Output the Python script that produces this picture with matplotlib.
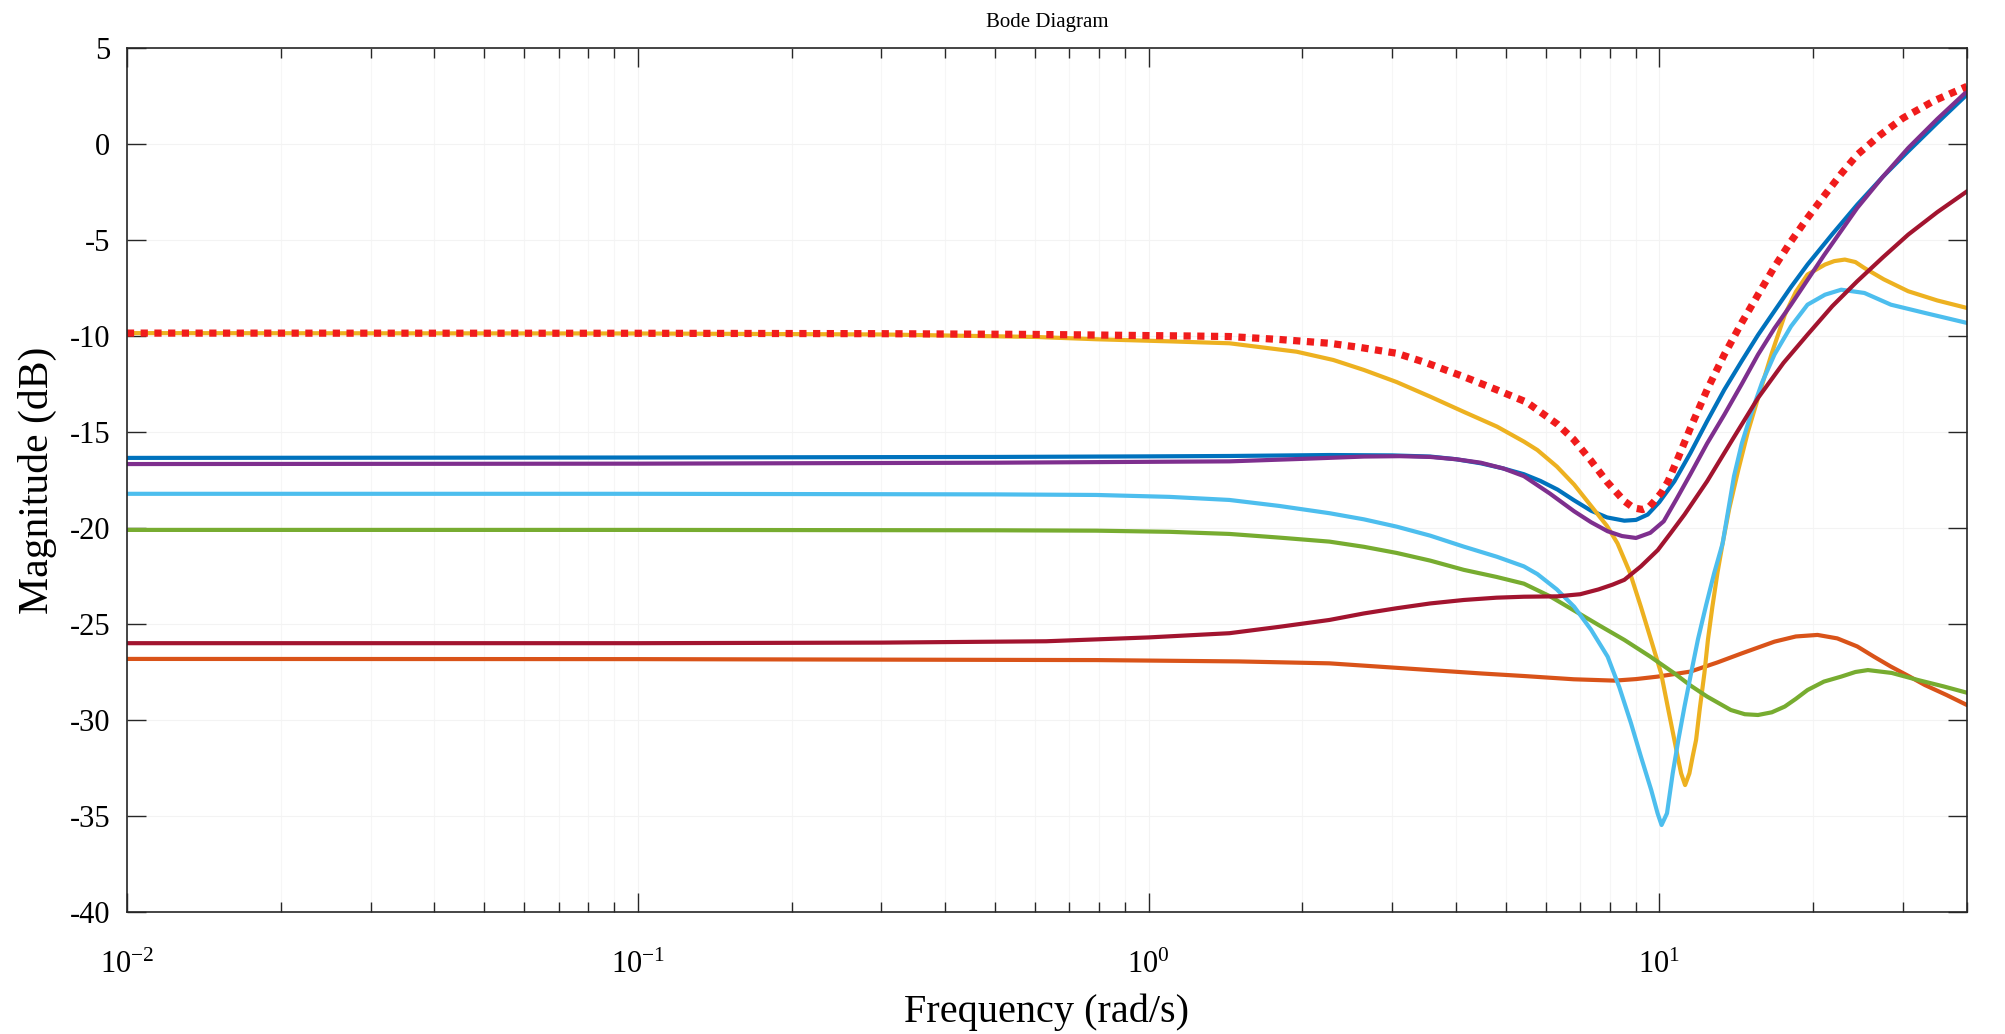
import numpy as np
import matplotlib
matplotlib.use("Agg")
import matplotlib.pyplot as plt
from matplotlib.ticker import LogLocator, NullFormatter, FixedLocator

plt.rcParams['font.family'] = ['Liberation Serif', 'DejaVu Serif']
plt.rcParams['mathtext.fontset'] = 'custom'
plt.rcParams['mathtext.rm'] = 'Liberation Serif'
plt.rcParams['mathtext.it'] = 'Liberation Serif'
plt.rcParams['axes.unicode_minus'] = False

# magnitude curves (freq in rad/s, magnitude in dB)
f_ref = [0.01, 0.1, 0.3, 0.6, 0.79, 1.0, 1.2, 1.44, 1.8, 2.26, 2.6, 3.06, 3.5, 4.14, 4.8, 5.5,
         6.32, 6.8, 7.35, 7.9, 8.54, 8.9, 9.27, 9.55, 9.78, 10.1, 10.4, 10.9, 11.5, 12.4, 13.4,
         14.5, 15.6, 16.8, 18.1, 19.5, 21.1, 22.7, 24.4, 27, 30, 34.5, 40]
db_ref = [-9.85, -9.86, -9.88, -9.92, -9.95, -9.98, -10.0, -10.03, -10.18, -10.38, -10.6,
          -10.9, -11.4, -12.12, -12.8, -13.45, -14.6, -15.4, -16.5, -17.6, -18.6, -18.95,
          -19.04, -18.9, -18.6, -18.15, -17.57, -16.3, -14.8, -12.8, -10.97, -9.3, -7.85,
          -6.4, -5.07, -3.85, -2.64, -1.55, -0.56, 0.45, 1.35, 2.25, 3.0]

f_blue = [0.01, 0.1, 0.5, 1.0, 1.44, 2.26, 3.0, 3.56, 4.0, 4.47, 4.95, 5.43, 5.85, 6.32, 6.8,
          7.35, 7.9, 8.54, 9.0, 9.49, 10.0, 10.7, 11.5, 12.4, 13.4, 14.5, 15.6, 16.8, 18.1,
          19.5, 21.8, 24.4, 27.4, 30.7, 35, 40]
db_blue = [-16.35, -16.33, -16.3, -16.27, -16.25, -16.2, -16.22, -16.28, -16.42, -16.63,
           -16.9, -17.2, -17.55, -18.0, -18.55, -19.1, -19.45, -19.62, -19.58, -19.3, -18.65,
           -17.57, -16.1, -14.44, -12.8, -11.3, -9.95, -8.7, -7.45, -6.28, -4.7, -3.16, -1.7,
           -0.38, 1.1, 2.57]

f_orange = [0.01, 0.1, 0.79, 1.5, 2.26, 3.56, 4.5, 5.43, 6.8, 8.17, 9.0, 9.93, 11.5, 13.0,
            14.5, 16.8, 18.5, 20.4, 22.3, 24.4, 26.3, 28.4, 30.7, 33.1, 36.5, 40]
db_orange = [-26.82, -26.83, -26.88, -26.95, -27.05, -27.4, -27.58, -27.71, -27.88, -27.95,
             -27.87, -27.74, -27.48, -27.0, -26.53, -25.92, -25.65, -25.57, -25.75, -26.17,
             -26.7, -27.22, -27.7, -28.18, -28.7, -29.22]

f_yellow = [0.01, 0.1, 0.3, 0.6, 0.79, 1.1, 1.44, 1.95, 2.3, 2.64, 3.06, 3.56, 4.14, 4.81,
            5.43, 5.77, 6.3, 6.81, 7.35, 7.9, 8.28, 8.75, 9.2, 9.65, 10.08, 10.4, 10.7, 10.86,
            11.03, 11.23, 11.45, 11.62, 11.8, 12.0, 12.25, 12.45, 12.7, 13.0, 13.3, 13.7,
            14.25, 14.9, 15.6, 16.6, 17.6, 18.5, 19.5, 21.1, 22.0, 23.07, 24.2, 25.2, 27.5,
            30.7, 35, 40]
db_yellow = [-9.85, -9.87, -9.92, -10.05, -10.17, -10.28, -10.38, -10.82, -11.25, -11.77,
             -12.4, -13.16, -13.95, -14.72, -15.5, -15.94, -16.8, -17.74, -18.85, -19.9,
             -20.8, -22.3, -24.1, -25.9, -27.57, -29.4, -31.04, -31.9, -32.78, -33.39, -32.78,
             -31.9, -31.04, -29.4, -27.57, -25.8, -24.1, -22.3, -20.8, -19.0, -17.05, -15.0,
             -13.23, -10.9, -8.9, -7.7, -6.8, -6.28, -6.1, -6.02, -6.15, -6.46, -7.05, -7.67,
             -8.15, -8.54]

f_purple = [0.01, 0.1, 0.5, 1.44, 2.0, 2.64, 3.1, 3.56, 4.0, 4.47, 4.95, 5.43, 6.1, 6.81,
            7.35, 7.92, 8.45, 9.0, 9.6, 10.2, 10.8, 11.5, 12.4, 13.4, 14.5, 15.6, 16.8, 18.1,
            21.0, 24.4, 27.4, 30.7, 35, 40]
db_purple = [-16.67, -16.65, -16.6, -16.53, -16.4, -16.28, -16.26, -16.3, -16.42, -16.6,
             -16.9, -17.3, -18.2, -19.13, -19.7, -20.17, -20.42, -20.52, -20.25, -19.65,
             -18.5, -17.2, -15.6, -14.1, -12.5, -10.97, -9.6, -8.37, -5.8, -3.33, -1.7, -0.21,
             1.3, 2.74]

f_green = [0.01, 0.1, 0.5, 0.79, 1.1, 1.44, 1.8, 2.26, 2.64, 3.06, 3.56, 4.14, 4.8, 5.43,
           6.1, 6.81, 7.6, 8.54, 9.6, 10.7, 11.5, 12.4, 13.8, 14.7, 15.6, 16.6, 17.6, 18.5,
           19.5, 21.0, 22.7, 24.2, 25.6, 28.5, 32.1, 36, 40]
db_green = [-20.1, -20.1, -20.12, -20.14, -20.2, -20.31, -20.5, -20.71, -20.98, -21.3, -21.7,
            -22.18, -22.55, -22.9, -23.55, -24.3, -25.05, -25.83, -26.7, -27.57, -28.2,
            -28.78, -29.48, -29.7, -29.74, -29.6, -29.3, -28.9, -28.44, -28.0, -27.74, -27.5,
            -27.4, -27.55, -27.92, -28.25, -28.58]

f_sky = [0.01, 0.1, 0.5, 0.79, 1.1, 1.44, 1.8, 2.26, 2.64, 3.06, 3.56, 4.14, 4.81, 5.43,
         5.77, 6.3, 6.81, 7.35, 7.92, 8.35, 8.8, 9.2, 9.64, 9.92, 10.1, 10.35, 10.62, 10.9,
         11.2, 11.55, 11.9, 12.35, 12.8, 13.3, 14.0, 14.5, 15.1, 15.9, 16.8, 18.1, 19.5, 21.1,
         22.7, 25.2, 28.4, 33.1, 40]
db_sky = [-18.22, -18.22, -18.25, -18.28, -18.38, -18.54, -18.85, -19.23, -19.55, -19.93,
          -20.4, -20.97, -21.5, -22.0, -22.4, -23.2, -24.1, -25.3, -26.7, -28.3, -30.17,
          -31.9, -33.65, -34.86, -35.47, -34.86, -32.78, -31.0, -29.3, -27.5, -25.8, -24.0,
          -22.36, -20.8, -17.3, -15.6, -14.1, -12.4, -10.97, -9.5, -8.37, -7.85, -7.59,
          -7.76, -8.37, -8.8, -9.32]

f_darkred = [0.01, 0.1, 0.3, 0.63, 1.0, 1.44, 1.8, 2.26, 2.64, 3.06, 3.56, 4.14, 4.8, 5.43,
             6.32, 7.0, 7.6, 8.1, 8.54, 9.2, 9.93, 10.5, 11.2, 12.4, 13.9, 15.6, 17.5, 19.5,
             21.8, 24.4, 27.4, 30.7, 35, 40]
db_darkred = [-26.0, -26.0, -25.97, -25.9, -25.7, -25.48, -25.15, -24.79, -24.45, -24.18,
              -23.93, -23.75, -23.63, -23.58, -23.56, -23.45, -23.2, -22.95, -22.7, -22.0,
              -21.15, -20.3, -19.3, -17.57, -15.4, -13.23, -11.4, -9.93, -8.45, -7.15, -5.9,
              -4.72, -3.55, -2.47]

y_ticks = [5, 0, -5, -10, -15, -20, -25, -30, -35, -40]
x_ticks = [1e-2, 1e-1, 1e0, 1e1]
x_ticklabels = [r'$10^{-2}$', r'$10^{-1}$', r'$10^{0}$', r'$10^{1}$']

fig = plt.figure(figsize=(20.05, 10.34), dpi=100)
ax = fig.add_axes([0.0633, 0.118, 0.9177, 0.8356])

lw = 3.0
ax.semilogx(f_blue, db_blue, color='#0072BD', lw=lw)
ax.semilogx(f_orange, db_orange, color='#D95319', lw=lw)
ax.semilogx(f_yellow, db_yellow, color='#EDB120', lw=lw)
ax.semilogx(f_purple, db_purple, color='#7E2F8E', lw=lw)
ax.semilogx(f_green, db_green, color='#77AC30', lw=lw)
ax.semilogx(f_sky, db_sky, color='#4DBEEE', lw=lw)
ax.semilogx(f_darkred, db_darkred, color='#A2142F', lw=lw)
ax.semilogx(f_ref, db_ref, color='#F01C1C', lw=5.2, linestyle=(0, (1, 0.9)))

ax.set_xlim(1e-2, 40)
ax.set_ylim(-40, 5)
ax.set_yticks(y_ticks)
ax.set_yticklabels([str(v) for v in y_ticks])
ax.xaxis.set_major_locator(FixedLocator(x_ticks))
ax.set_xticklabels(x_ticklabels)
ax.xaxis.set_minor_locator(LogLocator(base=10, subs=np.arange(2, 10), numticks=20))
ax.xaxis.set_minor_formatter(NullFormatter())

ax.grid(True, which='major', color='#f3f3f3', lw=0.8)
ax.grid(True, which='minor', axis='x', color='#f6f6f6', lw=0.8)

ax.tick_params(which='both', direction='in', top=True, right=True, color='#262626', width=1.0)
ax.tick_params(which='major', length=14, labelsize=22, pad=12)
ax.tick_params(which='minor', length=7)
ax.tick_params(axis='x', which='major', pad=28)
for s in ax.spines.values():
    s.set_color('#262626')
    s.set_linewidth(1.2)

ax.set_xlabel('Frequency (rad/s)', fontsize=29, labelpad=10)
ax.set_ylabel('Magnitude (dB)', fontsize=30, labelpad=9)
ax.set_title('Bode Diagram', fontsize=15, pad=15)

fig.savefig('out.png', dpi=100, facecolor='white')
